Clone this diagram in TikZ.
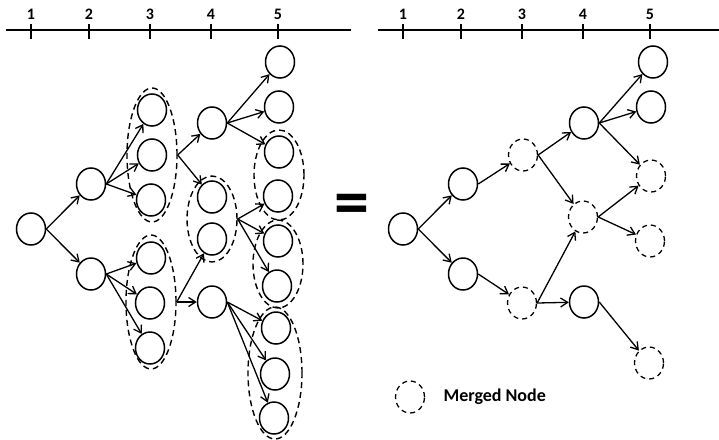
\documentclass[tikz,border=0pt]{standalone}
\usepackage{fontspec}
\setmainfont{Carlito}
\usetikzlibrary{positioning, arrows.meta, shapes.geometric}

\begin{document}
\begin{tikzpicture}[
  x=1pt, y=-1pt,
  st/.style={draw, ellipse, line width=1.5pt, minimum width=29pt,
              minimum height=32pt, inner sep=0pt},
  merged/.style={st, line width=1.3pt, dash pattern=on 5pt off 4pt},
  grp/.style={draw, ellipse, line width=1.4pt, dash pattern=on 6pt off 4pt,
              inner sep=0pt},
  arr/.style={-{Straight Barb[length=7pt, width=9pt]}, line width=1.3pt},
  tick/.style={font=\fontsize{16}{18}\selectfont\bfseries},
  legend/.style={font=\fontsize{18}{20}\selectfont\bfseries, anchor=west}
]
  \useasboundingbox (0,0) rectangle (719,439);

  % time axes
  \draw[line width=1.4pt] (6,30) -- (351,30);
  \foreach \x/\t in {31/1, 89/2, 150/3, 211/4, 278/5}
    \draw[line width=1.4pt] (\x,24) -- (\x,39) node[tick] at (\x,14) {\t};
  \draw[line width=1.4pt] (378,30) -- (719,30);
  \foreach \x/\t in {403/1, 461/2, 522/3, 583/4, 650/5}
    \draw[line width=1.4pt] (\x,24) -- (\x,39) node[tick] at (\x,14) {\t};

  % left tree
  \node[st] (a1) at (31,229) {};
  \node[st] (a2) at (91,184) {};
  \node[st] (a3) at (91,274) {};
  \node[st] (b1) at (152,110) {};
  \node[st] (b2) at (152,155) {};
  \node[st] (b3) at (151,200) {};
  \node[st] (b4) at (151,258) {};
  \node[st] (b5) at (150,303) {};
  \node[st] (b6) at (150,348) {};
  \node[st] (c1) at (212,123) {};
  \node[st] (c2) at (212,197) {};
  \node[st] (c3) at (212,239) {};
  \node[st] (c4) at (212,302) {};
  \node[st] (d1) at (280,62) {};
  \node[st] (d2) at (279,107) {};
  \node[st] (d3) at (279,152) {};
  \node[st] (d4) at (278,196) {};
  \node[st] (d5) at (278,241) {};
  \node[st] (d6) at (277,286) {};
  \node[st] (d7) at (276,328) {};
  \node[st] (d8) at (275,374) {};
  \node[st] (d9) at (274,418) {};

  % groups of equal states
  \node[grp, minimum width=50pt, minimum height=134pt] (gb1) at (152,155) {};
  \node[grp, minimum width=50pt, minimum height=134pt] (gb2) at (151,302) {};
  \node[grp, minimum width=50pt, minimum height=86pt]  (gc)  at (212,219) {};
  \node[grp, minimum width=50pt, minimum height=90pt]  (gd1) at (279,175) {};
  \node[grp, minimum width=50pt, minimum height=88pt]  (gd2) at (278,264) {};
  \node[grp, minimum width=54pt, minimum height=132pt] (gd3) at (275,373) {};

  \foreach \t in {a2, a3} \draw[arr] (a1.east) -- (\t);
  \foreach \t in {b1, b2, b3} \draw[arr] (a2.east) -- (\t);
  \foreach \t in {b4, b5, b6} \draw[arr] (a3.east) -- (\t);
  \foreach \t in {c1, c2} \draw[arr] (gb1.east) -- (\t);
  \foreach \t in {c3, c4} \draw[arr] (gb2.east) -- (\t);
  \foreach \t in {d1, d2, d3} \draw[arr] (c1.east) -- (\t);
  \foreach \t in {d4, d5, d6} \draw[arr] (gc.east) -- (\t);
  \foreach \t in {d7, d8, d9} \draw[arr] (c4.east) -- (\t);

  \node[font=\fontsize{70}{70}\selectfont\bfseries] (eq) at (352,210) {=};

  % right tree
  \node[st]     (p1) at (403,229) {};
  \node[st]     (p2) at (463,184) {};
  \node[st]     (p3) at (463,274) {};
  \node[merged] (q1) at (523,155) {};
  \node[merged] (q2) at (522,303) {};
  \node[st]     (r1) at (584,123) {};
  \node[merged] (r2) at (583,217) {};
  \node[st]     (r3) at (584,302) {};
  \node[st]     (s1) at (653,62) {};
  \node[st]     (s2) at (651,107) {};
  \node[merged] (s3) at (651,176) {};
  \node[merged] (s4) at (650,241) {};
  \node[merged] (s5) at (649,363) {};

  \foreach \t in {p2, p3} \draw[arr] (p1.east) -- (\t);
  \draw[arr] (p2.east) -- (q1);
  \draw[arr] (p3.east) -- (q2);
  \foreach \t in {r1, r2} \draw[arr] (q1.east) -- (\t);
  \foreach \t in {r2, r3} \draw[arr] (q2.east) -- (\t);
  \foreach \t in {s1, s2, s3} \draw[arr] (r1.east) -- (\t);
  \foreach \t in {s3, s4} \draw[arr] (r2.east) -- (\t);
  \draw[arr] (r3.east) -- (s5);

  % legend
  \node[merged] (leg) at (410,397) {};
  \node[legend] (legtxt) at (440,397) {Merged Node};
\end{tikzpicture}
\end{document}
